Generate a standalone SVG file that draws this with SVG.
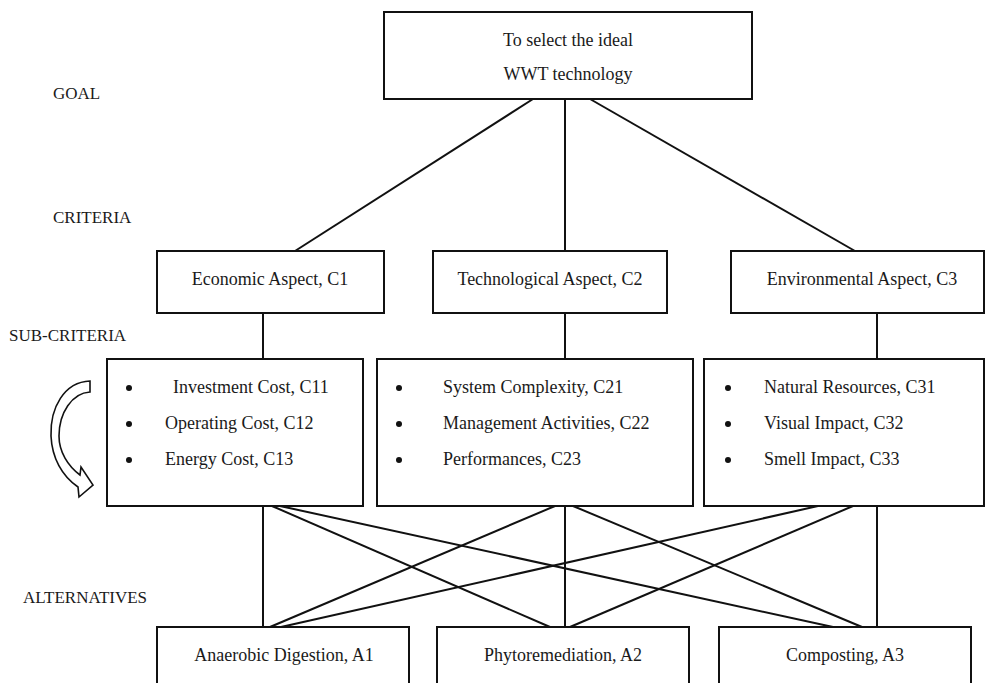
<svg xmlns="http://www.w3.org/2000/svg" width="986" height="683" viewBox="0 0 986 683">
<style>
  .box { fill: #ffffff; stroke: #111111; stroke-width: 2; }
  .ln { stroke: #111111; stroke-width: 2; fill: none; }
  .t { font-family: "Liberation Serif", "Times New Roman", serif; font-size: 18px; fill: #1a1a1a; }
  .c { text-anchor: middle; }
  .lbl { font-family: "Liberation Serif", "Times New Roman", serif; font-size: 17px; fill: #1a1a1a; }
  .dot { fill: #111111; }
</style>
<rect x="0" y="0" width="986" height="683" fill="#ffffff"/>

<g id="connectors">
  <line class="ln" x1="533" y1="99" x2="295" y2="251"/>
  <line class="ln" x1="565" y1="99" x2="565" y2="251"/>
  <line class="ln" x1="590" y1="99" x2="855" y2="251"/>
  <line class="ln" x1="263" y1="313" x2="263" y2="359"/>
  <line class="ln" x1="565" y1="313" x2="565" y2="359"/>
  <line class="ln" x1="877" y1="313" x2="877" y2="359"/>
  <line class="ln" x1="263" y1="506" x2="263" y2="627"/>
  <line class="ln" x1="272" y1="506" x2="550" y2="627"/>
  <line class="ln" x1="280" y1="506" x2="833" y2="627"/>
  <line class="ln" x1="555" y1="506" x2="270" y2="627"/>
  <line class="ln" x1="565" y1="506" x2="565" y2="627"/>
  <line class="ln" x1="573" y1="506" x2="862" y2="627"/>
  <line class="ln" x1="818" y1="506" x2="281" y2="627"/>
  <line class="ln" x1="853" y1="506" x2="570" y2="627"/>
  <line class="ln" x1="877" y1="506" x2="877" y2="627"/>
</g>

<g id="labels">
  <text class="lbl" x="53" y="99">GOAL</text>
  <text class="lbl" x="53" y="223">CRITERIA</text>
  <text class="lbl" x="9" y="341">SUB-CRITERIA</text>
  <text class="lbl" x="23" y="603">ALTERNATIVES</text>
</g>

<g id="goal">
  <rect class="box" x="384" y="12" width="368" height="87"/>
  <text class="t c" x="568" y="46">To select the ideal</text>
  <text class="t c" x="568" y="80">WWT technology</text>
</g>

<g id="c1">
  <rect class="box" x="157" y="251" width="227" height="62"/>
  <text class="t c" x="270" y="285">Economic Aspect, C1</text>
</g>
<g id="c2">
  <rect class="box" x="433" y="251" width="234" height="62"/>
  <text class="t c" x="550" y="285">Technological Aspect, C2</text>
</g>
<g id="c3">
  <rect class="box" x="731" y="251" width="253" height="62"/>
  <text class="t c" x="862" y="285">Environmental Aspect, C3</text>
</g>

<g id="sc1">
  <rect class="box" x="107" y="359" width="256" height="147"/>
  <circle class="dot" cx="129" cy="388" r="3"/>
  <circle class="dot" cx="129" cy="424" r="3"/>
  <circle class="dot" cx="129" cy="460" r="3"/>
  <text class="t" x="173" y="393">Investment Cost, C11</text>
  <text class="t" x="165" y="429">Operating Cost, C12</text>
  <text class="t" x="165" y="465">Energy Cost, C13</text>
</g>
<g id="sc2">
  <rect class="box" x="377" y="359" width="316" height="147"/>
  <circle class="dot" cx="399" cy="388" r="3"/>
  <circle class="dot" cx="399" cy="424" r="3"/>
  <circle class="dot" cx="399" cy="460" r="3"/>
  <text class="t" x="443" y="393">System Complexity, C21</text>
  <text class="t" x="443" y="429">Management Activities, C22</text>
  <text class="t" x="443" y="465">Performances, C23</text>
</g>
<g id="sc3">
  <rect class="box" x="704" y="359" width="280" height="147"/>
  <circle class="dot" cx="728" cy="388" r="3"/>
  <circle class="dot" cx="728" cy="424" r="3"/>
  <circle class="dot" cx="728" cy="460" r="3"/>
  <text class="t" x="764" y="393">Natural Resources, C31</text>
  <text class="t" x="764" y="429">Visual Impact, C32</text>
  <text class="t" x="764" y="465">Smell Impact, C33</text>
</g>

<g id="curved-arrow">
  <path d="M 90 381 C 64 382, 50 408, 51 436 C 52 458, 62 476, 78 487 L 79 497 L 93 485 L 81 467 L 80 475 C 68 466, 59 452, 59 436 C 59 413, 72 393, 90 392 Z" fill="#ffffff" stroke="#111111" stroke-width="1.6" stroke-linejoin="miter"/>
</g>

<g id="a1">
  <rect class="box" x="157" y="627" width="252" height="70"/>
  <text class="t c" x="284" y="661">Anaerobic Digestion, A1</text>
</g>
<g id="a2">
  <rect class="box" x="437" y="627" width="252" height="70"/>
  <text class="t c" x="563" y="661">Phytoremediation, A2</text>
</g>
<g id="a3">
  <rect class="box" x="719" y="627" width="252" height="70"/>
  <text class="t c" x="845" y="661">Composting, A3</text>
</g>
</svg>
